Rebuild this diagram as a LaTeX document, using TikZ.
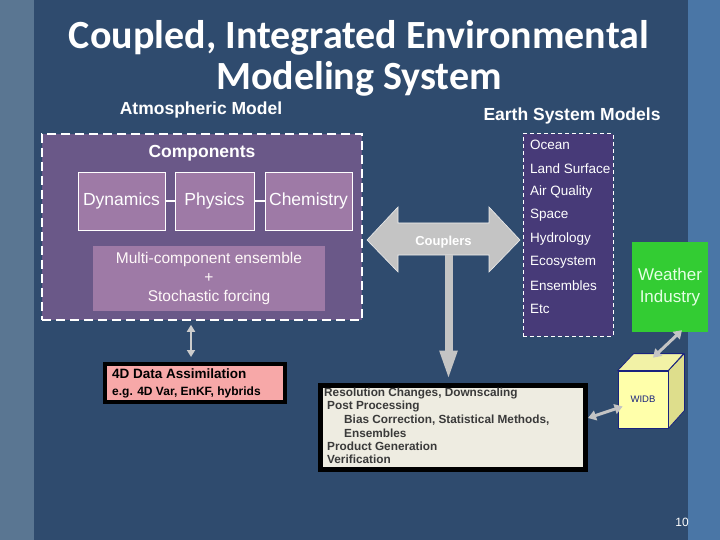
\documentclass[tikz,border=0pt]{standalone}
\usepackage{fontspec}
\setmainfont{Liberation Sans}
\newfontfamily\titlefont{Carlito}
\usetikzlibrary{arrows.meta,calc}
\definecolor{slidebg}{HTML}{2F4B6E}
\definecolor{leftstrip}{HTML}{5A7692}
\definecolor{rightstrip}{HTML}{4A76A6}
\definecolor{atmfill}{HTML}{6A5888}
\definecolor{compfill}{HTML}{9E7AA6}
\definecolor{earthfill}{HTML}{473A78}
\definecolor{dafill}{HTML}{F7A8A8}
\definecolor{resfill}{HTML}{EEECE1}
\definecolor{restext}{HTML}{3A3A3A}
\definecolor{wgreen}{HTML}{33CC33}
\definecolor{arrgray}{HTML}{C4C4C4}
\definecolor{cubefront}{HTML}{FFFFAA}
\definecolor{cubeside}{HTML}{DEDE8C}
\definecolor{cubeedge}{HTML}{1A237E}
\tikzset{
  fs/.style={font=\fontsize{#1}{#1}\selectfont},
  dashbox/.style={draw=white, line width=1.6pt, dash pattern=on 9pt off 5pt, inner sep=0pt},
  compbox/.style={draw=white, line width=0.8pt, fill=compfill, inner sep=0pt, text=white, fs=17.5},
  earthitem/.style={anchor=west, text=white, fs=13.5, inner sep=0pt},
  blkbox/.style={draw=black, line width=4pt, inner sep=0pt},
  dblarrow/.style={draw=arrgray, line width=3pt, {Triangle[length=8pt,width=10pt]}-{Triangle[length=8pt,width=10pt]}}
}
\begin{document}
\begin{tikzpicture}[x=1pt,y=-1pt]
\useasboundingbox (0,0) rectangle (720,540);
\fill[leftstrip] (0,0) rectangle (34,540);
\fill[slidebg] (34,0) rectangle (688,540);
\fill[rightstrip] (688,0) rectangle (720,540);

% title
\node[text=white, align=center, font=\titlefont\bfseries\fontsize{40}{41}\selectfont] (title) at (359,58) {Coupled, Integrated Environmental\\Modeling System};
\node[text=white, font=\bfseries\fontsize{17.5}{20}\selectfont] (atmlabel) at (201,110) {Atmospheric Model};
\node[text=white, font=\bfseries\fontsize{17.5}{20}\selectfont] (earthlabel) at (572,116) {Earth System Models};

% atmospheric model box
\node[dashbox, fill=atmfill, minimum width=320pt, minimum height=186pt] (atm) at (202,227) {};
\node[text=white, font=\bfseries\fontsize{17.5}{20}\selectfont] (comp) at (202,153) {Components};
\node[compbox, minimum width=87pt, minimum height=58pt] (dyn) at (121.5,201) {Dynamics};
\node[compbox, minimum width=79pt, minimum height=58pt] (phy) at (214.5,201) {Physics};
\node[compbox, minimum width=87pt, minimum height=58pt] (chem) at (308.5,201) {Chemistry};
\draw[white, line width=1.5pt] (dyn) -- (phy);
\draw[white, line width=1.5pt] (phy) -- (chem);
\node[fill=compfill, inner sep=0pt, minimum width=232pt, minimum height=65pt, text=white!90!pink, align=center, font=\fontsize{15.5}{19}\selectfont] (multi) at (209,278.5) {Multi-component ensemble\\+\\Stochastic forcing};

% earth system box
\node[dashbox, line width=1pt, dash pattern=on 4pt off 3pt, fill=earthfill, minimum width=90pt, minimum height=202pt] (earth) at (568,235) {};
\node[earthitem] (i1) at (530,145) {Ocean};
\node[earthitem] (i2) at (530,168.4) {Land Surface};
\node[earthitem] (i3) at (530,191.8) {Air Quality};
\node[earthitem] (i4) at (530,215.2) {Space};
\node[earthitem] (i5) at (530,238.6) {Hydrology};
\node[earthitem] (i6) at (530,262) {Ecosystem};
\node[earthitem] (i7) at (530,285.4) {Ensembles};
\node[earthitem] (i8) at (530,308.8) {Etc};

% couplers double block arrow
\coordinate (cc) at (443.5,240);
\fill[arrgray, draw=white!85!gray, line width=0.6pt]
  ($(cc)+(-76.5,0)$) -- ($(cc)+(-45.5,-33)$) -- ($(cc)+(-45.5,-17)$) -- ($(cc)+(45.5,-17)$) -- ($(cc)+(45.5,-33)$) -- ($(cc)+(76.5,0)$)
  -- ($(cc)+(45.5,32)$) -- ($(cc)+(45.5,15)$) -- ($(cc)+(-45.5,15)$) -- ($(cc)+(-45.5,32)$) -- cycle;
\node[text=white, font=\bfseries\fontsize{13}{15}\selectfont] (couplers) at (443.5,242) {Couplers};

% 4D data assimilation
\node[blkbox, fill=dafill, minimum width=180pt, minimum height=38pt] (da) at (195,383) {};
\node[anchor=west, inner sep=0pt, font=\bfseries\fontsize{13.5}{15}\selectfont] (da1) at (112,374) {4D Data Assimilation};
\node[anchor=west, inner sep=0pt, font=\bfseries\fontsize{12}{13}\selectfont] (da2) at (112,392) {e.g. 4D Var, EnKF, hybrids};

% resolution / post-processing box
\node[blkbox, line width=5pt, fill=resfill, minimum width=265pt, minimum height=84pt] (res) at (453,427) {};
\begin{scope}[every node/.style={anchor=west, inner sep=0pt, text=restext, font=\bfseries\fontsize{11.8}{13}\selectfont}]
\node (r1) at (324,393) {Resolution Changes, Downscaling};
\node (r2) at (327,406.5) {Post Processing};
\node (r3) at (344,420) {Bias Correction, Statistical Methods,};
\node (r4) at (344,433) {Ensembles};
\node (r5) at (327,446.5) {Product Generation};
\node (r6) at (327,459.5) {Verification};
\end{scope}

% arrow couplers -> resolution box
\draw[arrgray, line width=8pt, -{Triangle[length=30pt,width=16pt]}] ($(cc)+(5,15)$) -- ($(cc |- res.north)+(5,-2)$);

% small arrow atm <-> DA
\draw[dblarrow, line width=2.5pt, draw=gray!40!white, {Triangle[length=7pt,width=8pt]}-{Triangle[length=7pt,width=8pt]}] ($(atm.south)+(-11,4)$) -- ($(da.north)+(-4,-5)$);

% weather industry
\node[fill=wgreen, minimum width=76pt, minimum height=90pt, inner sep=0pt, align=center, text=white!90!green, font=\fontsize{17}{22}\selectfont] (weather) at (670,287) {Weather\\Industry};

% WIDB cube
\node[fill=cubefront, draw=cubeedge, line width=0.8pt, minimum width=50pt, minimum height=57pt, inner sep=0pt, font=\fontsize{9.5}{11}\selectfont, text=cubeedge] (widb) at (643,399.5) {WIDB};
\filldraw[fill=cubefront!90!gray, draw=cubeedge, line width=0.8pt, line join=round] (widb.north west) -- ++(16,-17) -- ++(50,0) -- (widb.north east) -- cycle;
\filldraw[fill=cubeside, draw=cubeedge, line width=0.8pt, line join=round] (widb.north east) -- ++(16,-17) -- ++(0,57) -- (widb.south east) -- cycle;

% arrows to/from WIDB
\draw[dblarrow] ($(widb.north)+(10,-13)$) -- ($(weather.south)+(12,-2)$);
\draw[dblarrow] ($(res.east)+(0,-9)$) -- ($(widb.west)+(5,7)$);

% page number
\node[text=white, font=\fontsize{12}{14}\selectfont] (page) at (682,522) {10};
\end{tikzpicture}
\end{document}
